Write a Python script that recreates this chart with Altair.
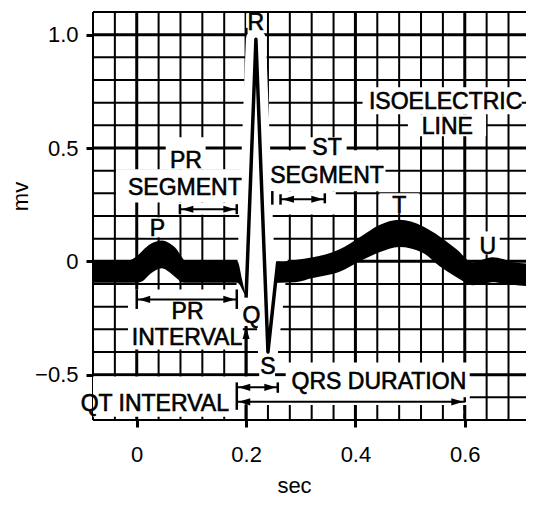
import altair as alt
import pandas as pd

FONT = "Liberation Sans"
FS = 22
FS_LAB = 23

# ---------------- data ----------------
# grid positions
grid_t_minor = [-0.08, -0.04, 0.04, 0.08, 0.12, 0.16, 0.24, 0.28, 0.32, 0.36, 0.44, 0.48, 0.52, 0.56, 0.64, 0.68]
grid_t_major = [0.0, 0.2, 0.4, 0.6]
grid_mv_minor = [-0.7, -0.6, -0.4, -0.3, -0.2, -0.1, 0.1, 0.2, 0.3, 0.4, 0.6, 0.7, 0.8, 0.9, 1.1]
grid_mv_major = [-0.5, 0.0, 0.5, 1.0]

# ECG trace drawn as a thick band: left part (baseline, P wave, into Q)
seg1_t = [-0.08, -0.03, -0.015, 0.0, 0.011, 0.025, 0.046, 0.06, 0.073, 0.082, 0.09, 0.1, 0.15, 0.184, 0.193, 0.2]
seg1_upper = [0.0, 0.0, 0.003, 0.022, 0.048, 0.076, 0.092, 0.08, 0.053, 0.02, 0.0, 0.0, 0.0, 0.0, -0.085, -0.16]
seg1_lower = [-0.095, -0.095, -0.095, -0.095, -0.087, -0.055, -0.03, -0.048, -0.075, -0.092, -0.095, -0.095, -0.095, -0.095, -0.125, -0.16]

# right part (ST segment, T wave, U wave)
seg2_t = [0.2535, 0.258, 0.262, 0.29, 0.322, 0.345, 0.371, 0.408, 0.444, 0.48, 0.523, 0.554, 0.585, 0.615, 0.633, 0.651, 0.67, 0.688, 0.74]
seg2_upper = [-0.1, 0.0, 0.0, 0.006, 0.018, 0.03, 0.053, 0.106, 0.16, 0.183, 0.155, 0.11, 0.053, -0.005, 0.008, 0.018, 0.01, -0.004, -0.013]
seg2_lower = [-0.1, -0.095, -0.094, -0.092, -0.074, -0.063, -0.046, 0.0, 0.04, 0.063, 0.038, -0.022, -0.07, -0.105, -0.1, -0.092, -0.097, -0.103, -0.112]

# QRS complex (Q, R, S, back to baseline)
qrs_t = [0.2, 0.218, 0.24, 0.258]
qrs_mv = [-0.16, 0.98, -0.40, 0.0]

# annotation labels
label_text = ["R", "PR", "SEGMENT", "P", "ST", "SEGMENT", "ISOELECTRIC", "LINE", "T", "U",
              "PR", "INTERVAL", "Q", "S", "QRS DURATION", "QT INTERVAL"]
label_t = [0.218, 0.09, 0.088, 0.038, 0.348, 0.348, 0.565, 0.568, 0.48, 0.642,
           0.093, 0.092, 0.21, 0.24, 0.443, 0.033]
label_mv = [1.05, 0.442, 0.322, 0.142, 0.502, 0.377, 0.702, 0.592, 0.242, 0.062,
            -0.225, -0.338, -0.242, -0.468, -0.533, -0.631]

# white boxes behind labels (t1, t2, mv1, mv2)
box_t1 = [0.2, 0.053, -0.038, 0.071, 0.015, 0.309, 0.24, 0.24, 0.413, 0.496, 0.444, 0.609, -0.016, 0.194, 0.224, 0.2725, -0.08, 0.183]
box_t2 = [0.237, 0.126, 0.199, 0.185, 0.064, 0.384, 0.455, 0.364, 0.704, 0.639, 0.517, 0.664, 0.194, 0.228, 0.253, 0.609, 0.183, 0.609]
box_mv1 = [1.03, 0.406, 0.26, 0.205, 0.106, 0.49, 0.309, 0.207, 0.649, 0.552, 0.212, 0.031, -0.389, -0.285, -0.511, -0.6, -0.686, -0.634]
box_mv2 = [1.095, 0.547, 0.406, 0.26, 0.194, 0.547, 0.49, 0.309, 0.768, 0.649, 0.3, 0.132, -0.124, -0.17, -0.43, -0.446, -0.508, -0.508]

# horizontal arrow shafts (mv, t1, t2)
arrow_mv = [0.2296, 0.274, -0.168, -0.556, -0.62]
arrow_t1 = [0.079, 0.263, 0.0, 0.183, 0.183]
arrow_t2 = [0.183, 0.344, 0.183, 0.258, 0.6]

# arrow heads (tip position)
head_t = [0.082, 0.18, 0.266, 0.341, 0.003, 0.18, 0.186, 0.255, 0.186, 0.597]
head_mv = [0.2296, 0.2296, 0.274, 0.274, -0.168, -0.168, -0.556, -0.556, -0.62, -0.62]
head_dir = ["left", "right", "left", "right", "left", "right", "left", "right", "left", "right"]

# vertical end marks (t, mv1, mv2)
mark_t = [0.079, 0.183, 0.248, 0.263, 0.344, 0.0, 0.183, 0.183, 0.258, 0.2, 0.2]
mark_mv1 = [0.208, 0.208, 0.25, 0.25, 0.256, -0.124, -0.124, -0.534, -0.534, -0.63, -0.5]
mark_mv2 = [0.252, 0.252, 0.31, 0.296, 0.3, -0.21, -0.21, -0.655, -0.58, -0.7, -0.29]

# dashed end mark of the QT interval
dash_t = [0.6]
dash_mv1 = [-0.6]
dash_mv2 = [-0.7]

# ---------------- chart ----------------
W, H = 433, 408
xs = alt.Scale(domain=[-0.08, 0.712], nice=False, zero=False)
ys = alt.Scale(domain=[-0.7, 1.1], nice=False, zero=False)

lab_expr = "datum.value == 0 ? '0' : format(datum.value, '.1f')"
xaxis = alt.Axis(values=[0, 0.2, 0.4, 0.6], labelExpr=lab_expr, grid=False, domain=False,
                 tickSize=7, tickWidth=3, tickColor="black", labelFont=FONT, labelFontSize=FS,
                 labelColor="black", labelPadding=17, title="sec", titleFont=FONT, titleFontSize=FS,
                 titleFontWeight="normal", titleColor="black", titleX=201, titleY=72,
                 titleBaseline="alphabetic", titleAlign="center")
yaxis = alt.Axis(values=[-0.5, 0, 0.5, 1.0], labelExpr=lab_expr, grid=False, domain=False,
                 tickSize=7, tickWidth=3, tickColor="black", labelFont=FONT, labelFontSize=FS,
                 labelColor="black", labelPadding=8, title="mv", titleFont=FONT, titleFontSize=FS,
                 titleFontWeight="normal", titleColor="black", titleAngle=270, titleX=-66,
                 titleY=184, titleBaseline="alphabetic", titleAlign="center")


def X(f):
    return alt.X(f, type="quantitative", scale=xs, axis=xaxis)


def Y(f):
    return alt.Y(f, type="quantitative", scale=ys, axis=yaxis)


vmin = alt.Chart(pd.DataFrame({"t": grid_t_minor})).mark_rule(color="black", strokeWidth=2).encode(x=X("t"))
vmaj = alt.Chart(pd.DataFrame({"t": grid_t_major})).mark_rule(color="black", strokeWidth=3).encode(x=X("t"))
hmin = alt.Chart(pd.DataFrame({"mv": grid_mv_minor})).mark_rule(color="black", strokeWidth=2).encode(y=Y("mv"))
hmaj = alt.Chart(pd.DataFrame({"mv": grid_mv_major})).mark_rule(color="black", strokeWidth=3).encode(y=Y("mv"))

boxes = alt.Chart(pd.DataFrame({"t1": box_t1, "t2": box_t2, "m1": box_mv1, "m2": box_mv2})).mark_rect(
    color="white").encode(x=X("t1"), x2="t2", y=Y("m1"), y2="m2")

qrs_df = pd.DataFrame({"t": qrs_t, "mv": qrs_mv, "o": list(range(len(qrs_t)))})
halo = alt.Chart(qrs_df).mark_line(color="white", strokeWidth=20, strokeJoin="round", strokeCap="round").encode(
    x=X("t"), y=Y("mv"), order="o:Q")

band1 = alt.Chart(pd.DataFrame({"t": seg1_t, "u": seg1_upper, "l": seg1_lower})).mark_area(
    color="black", interpolate="monotone").encode(x=X("t"), y=Y("u"), y2="l")
band2 = alt.Chart(pd.DataFrame({"t": seg2_t, "u": seg2_upper, "l": seg2_lower})).mark_area(
    color="black", interpolate="monotone", clip=True).encode(x=X("t"), y=Y("u"), y2="l")

spike = alt.Chart(qrs_df).mark_line(color="black", strokeWidth=3.5, strokeJoin="round").encode(
    x=X("t"), y=Y("mv"), order="o:Q")

shafts = alt.Chart(pd.DataFrame({"mv": arrow_mv, "t1": arrow_t1, "t2": arrow_t2})).mark_rule(
    color="black", strokeWidth=2).encode(x=X("t1"), x2="t2", y=Y("mv"))

marks = alt.Chart(pd.DataFrame({"t": mark_t, "m1": mark_mv1, "m2": mark_mv2})).mark_rule(
    color="black", strokeWidth=2.5).encode(x=X("t"), y=Y("m1"), y2="m2")

dashes = alt.Chart(pd.DataFrame({"t": dash_t, "m1": dash_mv1, "m2": dash_mv2})).mark_rule(
    color="black", strokeWidth=2.5, strokeDash=[5, 3]).encode(x=X("t"), y=Y("m1"), y2="m2")

heads_df = pd.DataFrame({"t": head_t, "mv": head_mv, "d": head_dir})
right_path = "M 0 0 L -2 -0.6 L -2 0.6 Z"
left_path = "M 0 0 L 2 -0.6 L 2 0.6 Z"
up_path = "M 0 0 L -0.6 2 L 0.6 2 Z"
heads_r = alt.Chart(heads_df).transform_filter(alt.datum.d == "right").mark_point(
    shape=right_path, filled=True, color="black", size=140, opacity=1).encode(x=X("t"), y=Y("mv"))
heads_l = alt.Chart(heads_df).transform_filter(alt.datum.d == "left").mark_point(
    shape=left_path, filled=True, color="black", size=140, opacity=1).encode(x=X("t"), y=Y("mv"))
head_up = alt.Chart(pd.DataFrame({"t": [0.2], "mv": [-0.29]})).mark_point(
    shape=up_path, filled=True, color="black", size=140, opacity=1).encode(x=X("t"), y=Y("mv"))

labels = alt.Chart(pd.DataFrame({"t": label_t, "mv": label_mv, "txt": label_text})).mark_text(
    font=FONT, fontSize=FS_LAB, color="black", stroke="black", strokeWidth=0.6,
    align="center", baseline="middle").encode(x=X("t"), y=Y("mv"), text="txt:N")

chart = alt.layer(
    vmin, vmaj, hmin, hmaj, boxes, halo, band1, band2, spike,
    shafts, marks, dashes, heads_r, heads_l, head_up, labels
).properties(
    width=W, height=H,
    padding={"left": 85, "top": 4, "right": 0, "bottom": 78},
    autosize=alt.AutoSizeParams(type="none"),
    background="white",
).configure_view(stroke=None)

chart.save("out.html", embed_options={"renderer": "svg", "actions": False})
